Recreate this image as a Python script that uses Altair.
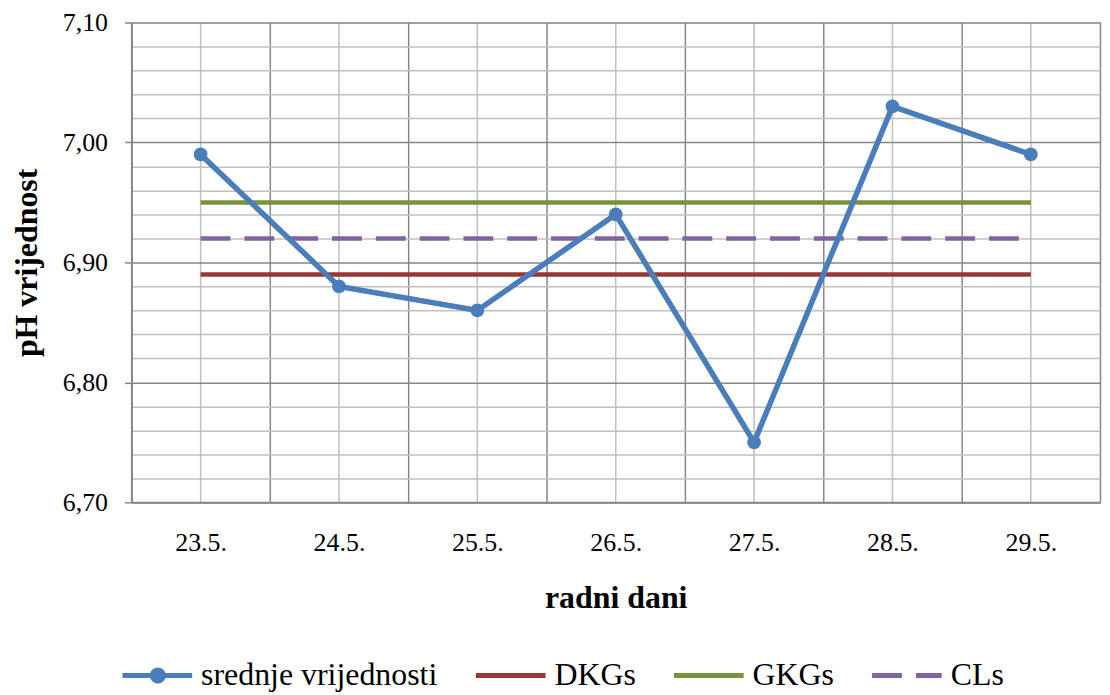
import altair as alt
import pandas as pd

days = ["23.5.", "24.5.", "25.5.", "26.5.", "27.5.", "28.5.", "29.5."]
series_names = ["srednje vrijednosti", "DKGs", "GKGs", "CLs"]
srednje = [6.99, 6.88, 6.86, 6.94, 6.75, 7.03, 6.99]
dkgs = [6.89, 6.89, 6.89, 6.89, 6.89, 6.89, 6.89]
gkgs = [6.95, 6.95, 6.95, 6.95, 6.95, 6.95, 6.95]
cls_ = [6.92, 6.92, 6.92, 6.92, 6.92, 6.92, 6.92]
y_major = [6.70, 6.80, 6.90, 7.00, 7.10]
y_minor = [6.72, 6.74, 6.76, 6.78, 6.82, 6.84, 6.86, 6.88, 6.92, 6.94, 6.96, 6.98,
           7.02, 7.04, 7.06, 7.08]
colors = ["#4A7EBB", "#953734", "#77933C", "#8064A2"]
dashes = [[1, 0], [1, 0], [1, 0], [30, 14]]

PATH_DOT = "M-1,0H6M2,0A0.55,0.55,0,1,0,3.1,0A0.55,0.55,0,1,0,2,0Z"
PATH_LINE = "M-1,0H6"
shapes = [PATH_DOT, PATH_LINE, PATH_LINE, PATH_LINE]

rows = []
for name, vals in zip(series_names, [srednje, dkgs, gkgs, cls_]):
    for d, v in zip(days, vals):
        rows.append({"dan": d, "vrijednost": v, "serija": name})
df = pd.DataFrame(rows)
df_mean = df[df["serija"] == "srednje vrijednosti"]

FONT = "Liberation Serif, DejaVu Serif, serif"
GRID_DARK = "#868686"
GRID_LIGHT = "#BFBFBF"

xscale = alt.Scale(type="band", paddingInner=0, paddingOuter=0, domain=days)
yscale = alt.Scale(domain=[6.70, 7.10], nice=False, zero=False)

legend = alt.Legend(
    title=None, orient="none", direction="horizontal", legendX=-15, legendY=640,
    labelFont=FONT, labelFontSize=32, labelColor="black", labelLimit=500,
    symbolSize=400, symbolStrokeWidth=5, columnPadding=28, labelOffset=53,
    symbolOpacity=1,
)

color_enc = alt.Color("serija:N", scale=alt.Scale(domain=series_names, range=colors), legend=legend)

lines = alt.Chart(df).mark_line(strokeWidth=4.5).encode(
    x=alt.X("dan:N", scale=xscale, sort=days, bandPosition=0.5,
            axis=alt.Axis(orient="top", labels=False, ticks=False, domain=False, title=None,
                          grid=True, gridColor=GRID_LIGHT, gridWidth=1.5)),
    y=alt.Y("vrijednost:Q", scale=yscale,
            axis=alt.Axis(orient="right", values=y_minor, labels=False, ticks=False, domain=False,
                          title=None, grid=True, gridColor=GRID_LIGHT, gridWidth=1.5)),
    color=color_enc,
    strokeDash=alt.StrokeDash("serija:N", scale=alt.Scale(domain=series_names, range=dashes), legend=legend),
    detail="serija:N",
)

mean_line = alt.Chart(df_mean).mark_line(strokeWidth=5.5, color="#4A7EBB").encode(
    x=alt.X("dan:N", scale=xscale, sort=days, bandPosition=0.5,
            axis=alt.Axis(orient="bottom", tickBand="extent", ticks=False, grid=True,
                          gridColor=GRID_DARK, gridWidth=1.5, domainColor=GRID_DARK, domainWidth=2,
                          labelAngle=0, labelFont=FONT, labelFontSize=26, labelColor="black",
                          labelPadding=27, title="radni dani", titleFont=FONT, titleFontSize=32,
                          titleFontWeight="bold", titleColor="black", titlePadding=28)),
    y=alt.Y("vrijednost:Q", scale=yscale,
            axis=alt.Axis(orient="left", values=y_major, grid=True, gridColor=GRID_DARK, gridWidth=1.5,
                          domainColor=GRID_DARK, domainWidth=2, tickColor=GRID_DARK, tickSize=7,
                          tickWidth=1.5,
                          labelExpr="replace(format(datum.value, '.2f'), '.', ',')",
                          labelFont=FONT, labelFontSize=26, labelColor="black", labelPadding=17,
                          title="pH vrijednost", titleFont=FONT, titleFontSize=32,
                          titleFontWeight="bold", titleColor="black", titlePadding=19)),
)

points = alt.Chart(df_mean).mark_point(filled=True, size=190, opacity=1, color="#4A7EBB").encode(
    x=alt.X("dan:N", scale=xscale, sort=days, bandPosition=0.5, axis=None),
    y=alt.Y("vrijednost:Q", scale=yscale, axis=None),
)

legend_shapes = alt.Chart(df_mean).transform_filter("false").mark_point(filled=True).encode(
    x=alt.X("dan:N", scale=xscale, sort=days, bandPosition=0.5, axis=None),
    y=alt.Y("vrijednost:Q", scale=yscale, axis=None),
    color=color_enc,
    shape=alt.Shape("serija:N", scale=alt.Scale(domain=series_names, range=shapes), legend=legend),
)

chart = alt.layer(lines, mean_line, points, legend_shapes).resolve_axis(
    x="independent", y="independent"
).properties(
    width=973, height=482,
    autosize=alt.AutoSizeParams(type="none"),
    padding={"left": 124, "top": 13, "right": 2, "bottom": 190},
).configure_view(stroke=None).configure(background="white")

chart.save("out.html", embed_options={"renderer": "svg", "actions": False})
